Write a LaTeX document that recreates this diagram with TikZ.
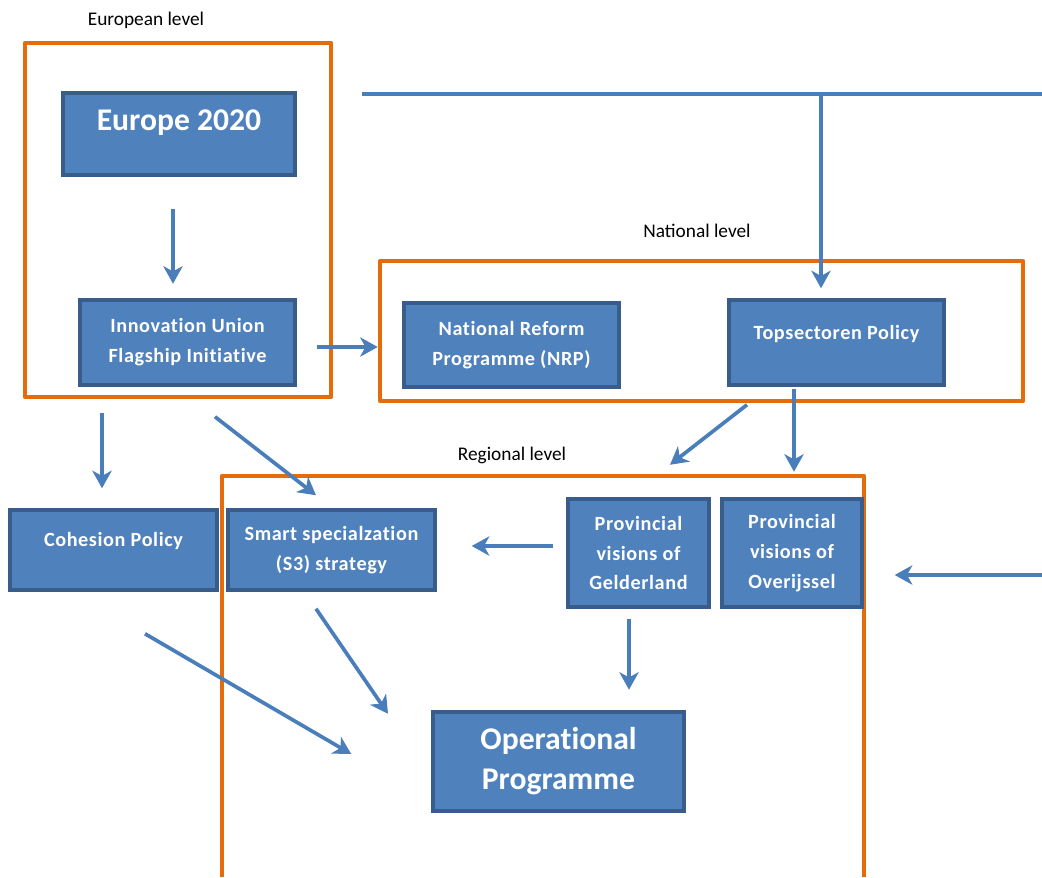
\documentclass[tikz,border=0pt]{standalone}
\usepackage{fontspec}
\setmainfont{Carlito}
\newfontfamily\boxfont[LetterSpace=3,Ligatures=NoCommon]{Carlito}
\newfontfamily\bigfont[Ligatures=NoCommon]{Carlito}
\usetikzlibrary{calc,arrows.meta}

\definecolor{boxblue}{HTML}{4F81BD}
\definecolor{boxedge}{HTML}{385D8A}
\definecolor{arrblue}{HTML}{4A7EBB}
\definecolor{frameorange}{HTML}{E46C0A}

\tikzset{
    block/.style={draw=boxedge, fill=boxblue, line width=2pt, text=white,
        font=\boxfont\fontsize{11.5}{17}\selectfont\bfseries, align=center, inner sep=2pt},
    oneline/.style={text depth=12pt},
    bigblock/.style={block, font=\bigfont\fontsize{18}{22.7}\selectfont\bfseries},
    frame/.style={draw=frameorange, line width=2.6pt, line join=round},
    levellabel/.style={font=\fontsize{11}{13}\selectfont, text=black},
    link/.style={draw=arrblue, line width=2.1pt},
    arr/.style={link, -{Stealth[length=10pt,width=11pt,inset=3pt]}}
}

\begin{document}
\begin{tikzpicture}[x=0.02cm, y=-0.02cm]
        \useasboundingbox (0,0) rectangle (1042,877);

        % niveaus
        \draw[frame] (25,43) rectangle (331,397);
        \draw[frame] (380,261) rectangle (1023,401);
        \draw[frame] (222,877) -- (222,476) -- (864,476) -- (864,877);
        \node[levellabel] (eulabel) at (146,20) {European level};
        \node[levellabel] (natlabel) at (697,231) {National level};
        \node[levellabel] (reglabel) at (512,455) {Regional level};

        % blokken
        \node[bigblock, minimum width=4.64cm, minimum height=1.64cm, text depth=16pt] (euro) at (179,134) {Europe 2020};
        \node[block, minimum width=4.3cm, minimum height=1.7cm] (innov) at (187.5,342.5) {Innovation Union\\Flagship Initiative};
        \node[block, minimum width=4.3cm, minimum height=1.68cm] (nrp) at (511.5,345) {National Reform\\Programme (NRP)};
        \node[block, oneline, minimum width=4.3cm, minimum height=1.7cm] (topsec) at (836.5,342.5) {Topsectoren Policy};
        \node[block, oneline, minimum width=4.14cm, minimum height=1.6cm] (cohesion) at (113.5,550) {Cohesion Policy};
        \node[block, minimum width=4.14cm, minimum height=1.6cm] (smart) at (331.5,550) {Smart specialzation\\(S3) strategy};
        \node[block, minimum width=2.82cm, minimum height=2.16cm] (gelder) at (638.5,553) {Provincial\\visions of\\Gelderland};
        \node[block, minimum width=2.8cm, minimum height=2.16cm] (overijssel) at (792,553) {Provincial\\visions of\\Overijssel};
        \node[bigblock, minimum width=5.02cm, minimum height=1.98cm] (opprog) at (558.5,761.5) {Operational\\Programme};

        % vrije eindpunten
        \coordinate (topL) at (362,94);
        \coordinate (topR) at (1042,94);
        \coordinate (rightin) at (1042,575);

        % pijlen
        \draw[link] (topL) -- (topR);
        \draw[arr] ($(topL)+(459,0)$) -- ($(topsec.north)+(-15.5,-10)$);
        \draw[arr] ($(euro.south)+(-6,32)$) -- ++(0,75);
        \draw[arr] ($(innov.east)+(20,4.5)$) -- ++(61,0);
        \draw[arr] ($(topsec.south)+(-89.5,18)$) -- ++(-77,60);
        \draw[arr] ($(topsec.south)+(-42.5,2)$) -- ++(0,83);
        \draw[arr] ($(cohesion.north)+(-11.5,-95)$) -- ++(0,75);
        \draw[arr] ($(innov.south)+(27.5,30)$) -- ($(smart.north)+(-15.5,-13)$);
        \draw[arr] ($(gelder.west)+(-13,-7)$) -- ($(smart.east)+(35,-4)$);
        \draw[arr] (rightin) -- ($(overijssel.east)+(31,22)$);
        \draw[arr] ($(gelder.south)+(-9.5,10)$) -- ++(0,71);
        \draw[arr] ($(smart.south)+(-15.5,17)$) -- ++(72,105);
        \draw[arr] ($(cohesion.south)+(31.5,42)$) -- ($(opprog.west)+(-80,-7.5)$);

    \end{tikzpicture}
\end{document}
